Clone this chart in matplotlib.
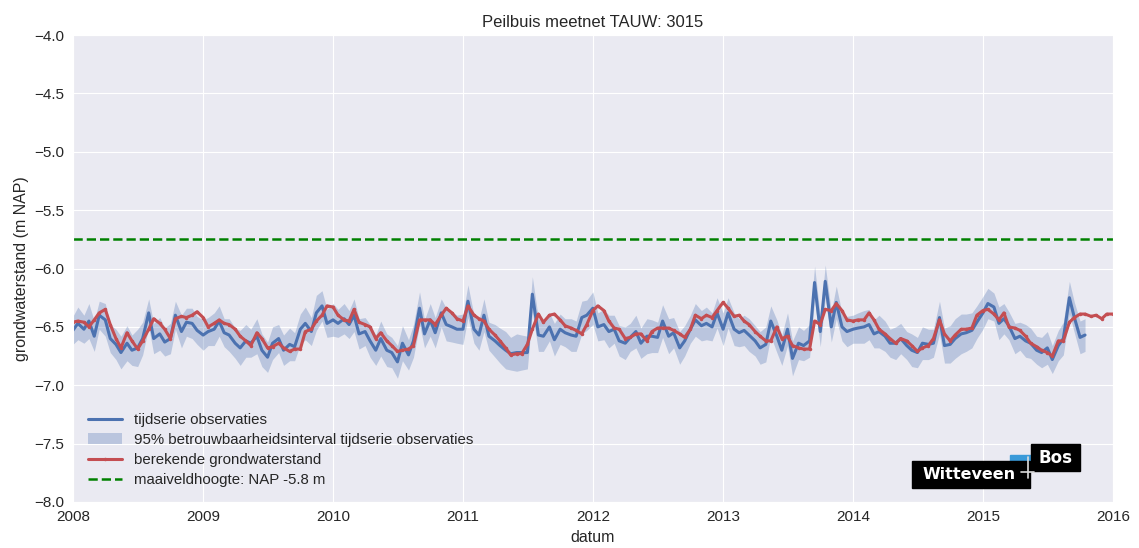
import matplotlib
matplotlib.use("Agg")
import matplotlib.pyplot as plt
import matplotlib.dates as mdates
from matplotlib.patches import Rectangle
from matplotlib.lines import Line2D
import numpy as np
import pandas as pd
import seaborn as sns

sns.set_style("darkgrid")
plt.rcParams['font.family'] = ['Liberation Sans', 'DejaVu Sans']

peilbuis = "3015"
maaiveld = -5.75

# halfmaandelijkse tijdstappen
datums = pd.date_range("2008-01-01", "2016-01-01", freq="SMS")

# berekende grondwaterstand (m NAP)
berekend = [
    -6.46, -6.45, -6.46, -6.50, -6.44, -6.38, -6.35, -6.48, -6.60, -6.68, -6.55, -6.62,
    -6.69, -6.62, -6.52, -6.43, -6.47, -6.52, -6.60, -6.43, -6.41, -6.42, -6.40, -6.37,
    -6.42, -6.50, -6.47, -6.44, -6.47, -6.48, -6.52, -6.58, -6.62, -6.66, -6.55, -6.60,
    -6.68, -6.67, -6.64, -6.68, -6.71, -6.69, -6.69, -6.54, -6.52, -6.45, -6.40, -6.32,
    -6.33, -6.40, -6.44, -6.45, -6.35, -6.46, -6.48, -6.50, -6.60, -6.55, -6.62, -6.66,
    -6.71, -6.70, -6.69, -6.66, -6.44, -6.44, -6.44, -6.48, -6.40, -6.34, -6.38, -6.43,
    -6.45, -6.32, -6.40, -6.43, -6.45, -6.52, -6.57, -6.62, -6.68, -6.74, -6.73, -6.73,
    -6.65, -6.52, -6.39, -6.46, -6.40, -6.39, -6.44, -6.49, -6.51, -6.53, -6.56, -6.48,
    -6.36, -6.32, -6.36, -6.45, -6.51, -6.52, -6.60, -6.59, -6.56, -6.56, -6.62, -6.54,
    -6.51, -6.51, -6.51, -6.53, -6.56, -6.59, -6.52, -6.40, -6.43, -6.40, -6.42, -6.36,
    -6.29, -6.34, -6.41, -6.40, -6.45, -6.48, -6.54, -6.58, -6.62, -6.62, -6.50, -6.60,
    -6.58, -6.66, -6.68, -6.69, -6.69, -6.45, -6.48, -6.35, -6.36, -6.30, -6.36, -6.44,
    -6.45, -6.44, -6.44, -6.38, -6.44, -6.52, -6.56, -6.60, -6.64, -6.60, -6.62, -6.66,
    -6.71, -6.68, -6.66, -6.60, -6.44, -6.56, -6.62, -6.57, -6.52, -6.52, -6.51, -6.40,
    -6.36, -6.35, -6.39, -6.44, -6.38, -6.50, -6.51, -6.53, -6.58, -6.64, -6.67, -6.70,
    -6.72, -6.75, -6.62, -6.62, -6.46, -6.42, -6.39, -6.39, -6.41, -6.40, -6.43, -6.39,
    -6.39,
]

# tijdserie observaties (m NAP), loopt tot oktober 2015
observaties = [
    -6.53, -6.47, -6.52, -6.45, -6.58, -6.40, -6.44, -6.60, -6.65, -6.72, -6.64, -6.70,
    -6.68, -6.60, -6.38, -6.60, -6.56, -6.63, -6.60, -6.40, -6.54, -6.46, -6.47, -6.53,
    -6.57, -6.54, -6.52, -6.45, -6.55, -6.57, -6.64, -6.68, -6.62, -6.64, -6.58, -6.70,
    -6.76, -6.64, -6.60, -6.70, -6.65, -6.67, -6.52, -6.47, -6.54, -6.38, -6.32, -6.47,
    -6.44, -6.47, -6.43, -6.48, -6.40, -6.56, -6.54, -6.62, -6.70, -6.60, -6.70, -6.72,
    -6.80, -6.64, -6.74, -6.62, -6.34, -6.56, -6.44, -6.55, -6.38, -6.48, -6.50, -6.52,
    -6.52, -6.28, -6.52, -6.57, -6.40, -6.58, -6.62, -6.66, -6.70, -6.73, -6.72, -6.72,
    -6.72, -6.22, -6.57, -6.58, -6.50, -6.61, -6.52, -6.55, -6.57, -6.58, -6.42, -6.40,
    -6.34, -6.50, -6.48, -6.54, -6.52, -6.62, -6.64, -6.59, -6.54, -6.64, -6.58, -6.58,
    -6.59, -6.45, -6.58, -6.55, -6.68, -6.62, -6.52, -6.44, -6.49, -6.47, -6.50, -6.38,
    -6.52, -6.38, -6.52, -6.55, -6.53, -6.57, -6.62, -6.68, -6.65, -6.45, -6.58, -6.70,
    -6.52, -6.77, -6.64, -6.66, -6.62, -6.12, -6.54, -6.11, -6.50, -6.29, -6.50, -6.54,
    -6.52, -6.51, -6.50, -6.48, -6.56, -6.54, -6.58, -6.64, -6.64, -6.60, -6.66, -6.70,
    -6.72, -6.64, -6.65, -6.64, -6.42, -6.66, -6.65, -6.60, -6.56, -6.55, -6.53, -6.46,
    -6.38, -6.30, -6.33, -6.47, -6.43, -6.49, -6.60, -6.58, -6.62, -6.64, -6.70, -6.72,
    -6.68, -6.78, -6.66, -6.60, -6.25, -6.42, -6.59, -6.57,
]

# halve breedte van het 95% betrouwbaarheidsinterval (m)
ci_half = [
    0.12, 0.14, 0.12, 0.15, 0.13, 0.12, 0.14, 0.12, 0.13, 0.14, 0.15, 0.13,
    0.16, 0.14, 0.12, 0.13, 0.14, 0.12, 0.13, 0.12, 0.14, 0.12, 0.13, 0.12,
    0.13, 0.12, 0.14, 0.13, 0.12, 0.14, 0.13, 0.15, 0.14, 0.12, 0.15, 0.14,
    0.13, 0.14, 0.12, 0.13, 0.14, 0.12, 0.13, 0.14, 0.12, 0.15, 0.13, 0.12,
    0.14, 0.12, 0.13, 0.12, 0.14, 0.13, 0.12, 0.14, 0.13, 0.15, 0.14, 0.13,
    0.14, 0.15, 0.13, 0.14, 0.14, 0.12, 0.14, 0.13, 0.12, 0.14, 0.13, 0.12,
    0.13, 0.14, 0.12, 0.13, 0.14, 0.12, 0.14, 0.15, 0.16, 0.14, 0.16, 0.15,
    0.14, 0.15, 0.14, 0.13, 0.12, 0.14, 0.13, 0.12, 0.14, 0.13, 0.14, 0.13,
    0.14, 0.12, 0.13, 0.14, 0.12, 0.13, 0.14, 0.12, 0.14, 0.13, 0.15, 0.14,
    0.13, 0.14, 0.15, 0.13, 0.14, 0.13, 0.12, 0.14, 0.13, 0.14, 0.12, 0.13,
    0.14, 0.13, 0.14, 0.12, 0.13, 0.14, 0.13, 0.14, 0.15, 0.13, 0.14, 0.13,
    0.14, 0.15, 0.14, 0.13, 0.14, 0.14, 0.13, 0.14, 0.13, 0.14, 0.12, 0.13,
    0.12, 0.13, 0.14, 0.13, 0.12, 0.14, 0.13, 0.12, 0.14, 0.13, 0.12, 0.14,
    0.13, 0.14, 0.13, 0.12, 0.14, 0.15, 0.16, 0.17, 0.17, 0.16, 0.15, 0.14,
    0.14, 0.13, 0.12, 0.14, 0.13, 0.12, 0.13, 0.12, 0.14, 0.13, 0.12, 0.13,
    0.14, 0.12, 0.13, 0.14, 0.14, 0.13, 0.14, 0.14,
]

obs = np.array(observaties)
half = np.array(ci_half)
t_obs = datums[:len(obs)]

fig = plt.figure(figsize=(11.39, 5.48), dpi=100)
ax = fig.add_axes([0.064, 0.084, 0.913, 0.852])

ax.plot(t_obs, obs, color="#4C72B0", lw=2.2, label="tijdserie observaties")
ax.fill_between(t_obs, obs - half, obs + half, color="#4C72B0", alpha=0.3, lw=0,
                label="95% betrouwbaarheidsinterval tijdserie observaties")
ax.plot(datums, berekend, color="#C44E52", lw=2.2, marker=".", markersize=3,
        label="berekende grondwaterstand")
ax.axhline(maaiveld, color="green", ls="--", lw=1.8,
           label="maaiveldhoogte: NAP %.1f m" % maaiveld)

ax.set_xlim(pd.Timestamp("2008-01-01"), pd.Timestamp("2016-01-01"))
ax.set_ylim(-8.0, -4.0)
ax.set_yticks(np.arange(-8.0, -3.99, 0.5))
ax.xaxis.set_major_locator(mdates.YearLocator())
ax.xaxis.set_major_formatter(mdates.DateFormatter("%Y"))
ax.tick_params(labelsize=11, length=0, pad=6)

ax.set_title("Peilbuis meetnet TAUW: " + peilbuis, fontsize=12)
ax.set_xlabel("datum", fontsize=11.5)
ax.set_ylabel("grondwaterstand (m NAP)", fontsize=11.5)

ax.legend(loc="lower left", frameon=False, fontsize=10.8, handlelength=2.3,
          borderaxespad=0.6, labelspacing=0.4)

# logo rechtsonder
fig.add_artist(Rectangle((0.8868, 0.1588), 0.0184, 0.011, color="#3a9ad9",
                         transform=fig.transFigure))
fig.add_artist(Rectangle((0.8007, 0.1095), 0.1036, 0.0493, color="black",
                         transform=fig.transFigure))
fig.add_artist(Rectangle((0.9052, 0.1405), 0.0430, 0.0493, color="black",
                         transform=fig.transFigure))
fig.text(0.8510, 0.134, "Witteveen", color="white", fontsize=11.5, fontweight="bold",
         family="DejaVu Sans", ha="center", va="center")
fig.text(0.9267, 0.165, "Bos", color="white", fontsize=12, fontweight="bold",
         family="DejaVu Sans", ha="center", va="center")
fig.add_artist(Line2D([0.9025, 0.9025], [0.128, 0.166], color="#dddddd", lw=1.2,
                      transform=fig.transFigure))
fig.add_artist(Line2D([0.8965, 0.9080], [0.139, 0.139], color="#dddddd", lw=1.2,
                      transform=fig.transFigure))

fig.savefig("out.png", dpi=100)
